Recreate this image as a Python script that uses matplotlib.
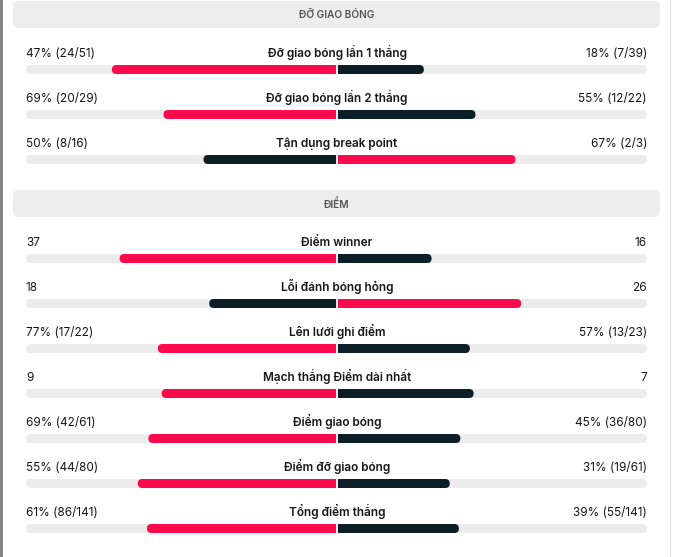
import matplotlib
matplotlib.use('Agg')
import matplotlib.pyplot as plt
from matplotlib.patches import FancyBboxPatch, Rectangle

plt.rcParams['font.family'] = ['Inter', 'DejaVu Sans']

# data
sections = ['ĐỠ GIAO BÓNG', 'ĐIỂM']
titles_1 = ['Đỡ giao bóng lần 1 thắng', 'Đỡ giao bóng lần 2 thắng', 'Tận dụng break point']
left_1 = [47, 69, 50]
right_1 = [18, 55, 67]
left_txt_1 = ['47% (24/51)', '69% (20/29)', '50% (8/16)']
right_txt_1 = ['18% (7/39)', '55% (12/22)', '67% (2/3)']

titles_2 = ['Điểm winner', 'Lỗi đánh bóng hỏng', 'Lên lưới ghi điểm', 'Mạch thắng Điểm dài nhất',
            'Điểm giao bóng', 'Điểm đỡ giao bóng', 'Tổng điểm thắng']
left_2 = [37, 18, 77, 9, 69, 55, 61]
right_2 = [16, 26, 57, 7, 45, 31, 39]
left_txt_2 = ['37', '18', '77% (17/22)', '9', '69% (42/61)', '55% (44/80)', '61% (86/141)']
right_txt_2 = ['16', '26', '57% (13/23)', '7', '45% (36/80)', '31% (19/61)', '39% (55/141)']

RED = '#ff0a4c'
DARK = '#0c1f28'
TRACK = '#ececec'
HEAD = '#ededed'
INK = '#161616'

W, H = 673, 557
fig = plt.figure(figsize=(W / 100, H / 100), dpi=100)
ax = fig.add_axes([0, 0, 1, 1])
ax.set_xlim(0, W)
ax.set_ylim(H, 0)
ax.axis('off')

cx = 337
half = 310
bh = 9


def rbar(x0, x1, yc, color, square_at=None):
    r = bh / 2
    ax.add_patch(FancyBboxPatch((x0, yc - bh / 2), x1 - x0, bh,
                                boxstyle='round,pad=0,rounding_size=%g' % r,
                                fc=color, ec='none', zorder=2))
    if square_at is not None:
        ax.add_patch(Rectangle((square_at - r if square_at > x0 + r else square_at, yc - bh / 2),
                               r, bh, fc=color, ec='none', zorder=2))


def header(y0, text):
    ax.add_patch(FancyBboxPatch((13, y0), 647, 27,
                                boxstyle='round,pad=0,rounding_size=6',
                                fc=HEAD, ec='none', zorder=1))
    ax.text(cx, y0 + 17.5, text, ha='center', va='baseline', fontsize=7.3,
            color='#555555', fontweight='semibold')


def rows(y_first, titles, lv, rv, lt, rt):
    for i in range(len(titles)):
        y = y_first + 45 * i
        yb = y + 17.5
        ax.text(26, y + 5, lt[i], ha='left', va='baseline', fontsize=8.5, color=INK)
        ax.text(647, y + 5, rt[i], ha='right', va='baseline', fontsize=8.5, color=INK)
        ax.text(cx, y + 5, titles[i], ha='center', va='baseline', fontsize=8.5,
                color=INK, fontweight='semibold')
        rbar(26, 647, yb, TRACK)
        tot = lv[i] + rv[i]
        lc = RED if lv[i] > rv[i] else DARK
        rc = RED if rv[i] > lv[i] else DARK
        lw = half * lv[i] / tot
        rw = half * rv[i] / tot
        rbar(cx - 1 - lw, cx - 1, yb, lc, square_at=cx - 1)
        rbar(cx + 1, cx + 1 + rw, yb, rc, square_at=cx + 1)


header(1, sections[0])
rows(52, titles_1, left_1, right_1, left_txt_1, right_txt_1)
header(190, sections[1])
rows(241, titles_2, left_2, right_2, left_txt_2, right_txt_2)

# card borders
ax.plot([1, 1], [0, H], color='#7a7a7a', lw=2, zorder=3)
ax.plot([670, 670], [0, H], color='#e6e6e6', lw=1, zorder=3)

fig.savefig('out.png', dpi=100)
